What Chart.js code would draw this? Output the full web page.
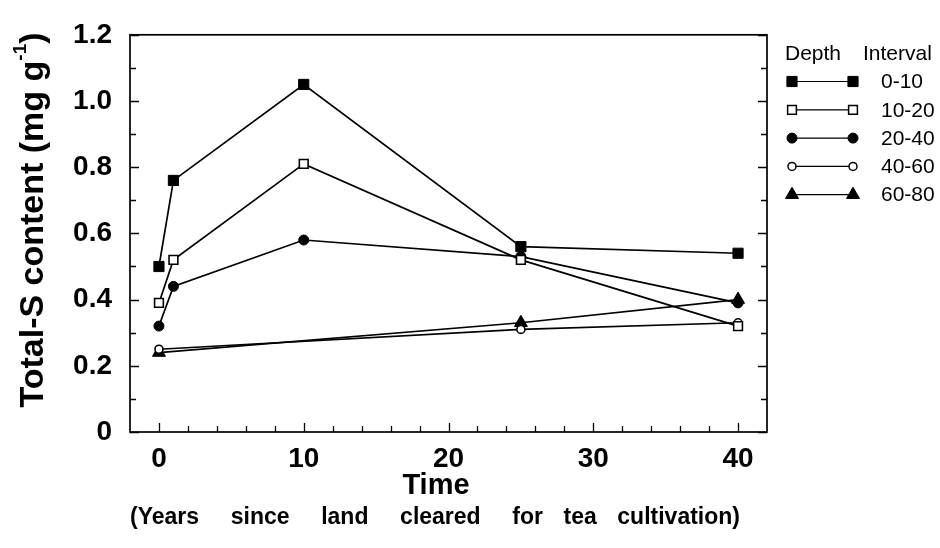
<!DOCTYPE html>
<html>
<head>
<meta charset="utf-8">
<script src="https://cdn.jsdelivr.net/npm/chart.js@4/dist/chart.umd.min.js"></script>
<style>
  html, body { margin: 0; padding: 0; background: #fff; }
  #wrap { width: 940px; height: 548px; }
</style>
</head>
<body>
<div id="wrap"><canvas id="c" width="940" height="548"></canvas></div>
<script>
// Sampling years (time since land was cleared for tea)
const yearsShallow = [0, 1, 10, 25, 40];
const yearsDeep = [0, 25, 40];

// Total-S content (mg g-1) per soil depth interval (cm)
const depthLabels = ['0-10', '10-20', '20-40', '40-60', '60-80'];
const sulfur0_10 = [0.50, 0.76, 1.05, 0.56, 0.54];
const sulfur10_20 = [0.39, 0.52, 0.81, 0.52, 0.32];
const sulfur20_40 = [0.32, 0.44, 0.58, 0.53, 0.39];
const sulfur40_60 = [0.25, 0.31, 0.33];
const sulfur60_80 = [0.24, 0.33, 0.40];

// Axis ticks
const xTicks = [0, 10, 20, 30, 40];
const xMinorStep = 2;
const yTicks = [0, 0.2, 0.4, 0.6, 0.8, 1.0, 1.2];
const yTickLabels = ['0', '0.2', '0.4', '0.6', '0.8', '1.0', '1.2'];
const yMinorStep = 0.1;

// x-axis caption words and the relative width of the gap after each
const captionWords = ['(Years', 'since', 'land', 'cleared', 'for', 'tea', 'cultivation)'];
const captionGaps = [1, 1, 1, 1, 0.65, 0.65];

const FONT = "'Liberation Sans', Arial, Helvetica, sans-serif";

// marker look for each depth
const markers = [
  { style: 'rect', filled: true, r: 7.2 },
  { style: 'rect', filled: false, r: 6.2 },
  { style: 'circle', filled: true, r: 5 },
  { style: 'circle', filled: false, r: 4 },
  { style: 'triangle', filled: true, r: 7.5 }
];

function pairs(xs, ys) { return xs.map((x, i) => ({ x: x, y: ys[i] })); }

const seriesValues = [sulfur0_10, sulfur10_20, sulfur20_40, sulfur40_60, sulfur60_80];
const seriesYears = [yearsShallow, yearsShallow, yearsShallow, yearsDeep, yearsDeep];

const datasets = seriesValues.map((vals, i) => ({
  label: depthLabels[i],
  data: pairs(seriesYears[i], vals),
  showLine: true,
  borderColor: '#000',
  borderWidth: 1.7,
  tension: 0,
  fill: false,
  pointStyle: markers[i].style,
  pointRadius: markers[i].r,
  pointHoverRadius: markers[i].r,
  pointBackgroundColor: markers[i].filled ? '#000' : '#fff',
  pointBorderColor: '#000',
  pointBorderWidth: markers[i].filled ? 1 : 1.6
}));

function drawMarker(ctx, m, x, y) {
  ctx.save();
  ctx.beginPath();
  if (m.style === 'rect') {
    const s = m.r * Math.SQRT1_2;
    ctx.rect(x - s, y - s, 2 * s, 2 * s);
  } else if (m.style === 'circle') {
    ctx.arc(x, y, m.r, 0, Math.PI * 2);
  } else {
    const r = m.r;
    ctx.moveTo(x, y - r);
    ctx.lineTo(x + r * Math.cos(Math.PI / 6), y + r * 0.5);
    ctx.lineTo(x - r * Math.cos(Math.PI / 6), y + r * 0.5);
    ctx.closePath();
  }
  ctx.fillStyle = m.filled ? '#000' : '#fff';
  ctx.fill();
  ctx.lineWidth = m.filled ? 1 : 1.5;
  ctx.strokeStyle = '#000';
  ctx.stroke();
  ctx.restore();
}

// Frame with inward major/minor ticks
const framePlugin = {
  id: 'frame',
  beforeDatasetsDraw(chart) {
    const { ctx, chartArea: a, scales } = chart;
    const xs = scales.x, ys = scales.y;
    ctx.save();
    ctx.strokeStyle = '#000';
    ctx.lineWidth = 1.7;
    ctx.strokeRect(a.left, a.top, a.right - a.left, a.bottom - a.top);
    ctx.lineWidth = 1.3;
    ctx.beginPath();
    // y ticks, both sides
    for (let v = 0; v <= 1.2001; v += yMinorStep) {
      const py = Math.round(ys.getPixelForValue(v)) + 0.5;
      const major = yTicks.some(t => Math.abs(t - v) < 1e-6);
      const len = major ? 9 : 6;
      ctx.moveTo(a.left, py); ctx.lineTo(a.left + len, py);
      ctx.moveTo(a.right, py); ctx.lineTo(a.right - len, py);
    }
    // x ticks, bottom only
    for (let v = 0; v <= 40.001; v += xMinorStep) {
      const px = Math.round(xs.getPixelForValue(v)) + 0.5;
      const major = xTicks.some(t => Math.abs(t - v) < 1e-6);
      const len = major ? 9 : 6;
      ctx.moveTo(px, a.bottom); ctx.lineTo(px, a.bottom - len);
    }
    ctx.stroke();
    ctx.restore();
  }
};

// Axis titles and depth legend
const textPlugin = {
  id: 'texts',
  afterDraw(chart) {
    const ctx = chart.ctx;
    ctx.save();
    ctx.fillStyle = '#000';

    // y axis title with superscript
    ctx.save();
    ctx.translate(31, 220);
    ctx.rotate(-Math.PI / 2);
    const main = 'Total-S content (mg g';
    const sup = '-1';
    const tail = ')';
    ctx.font = 'bold 34px ' + FONT;
    const wMain = ctx.measureText(main).width;
    const wTail = ctx.measureText(tail).width;
    ctx.font = 'bold 19px ' + FONT;
    const wSup = ctx.measureText(sup).width;
    const total = wMain + wSup + wTail;
    const x0 = -total / 2;
    ctx.textBaseline = 'alphabetic';
    ctx.textAlign = 'left';
    ctx.font = 'bold 34px ' + FONT;
    ctx.fillText(main, x0, 12);
    ctx.font = 'bold 19px ' + FONT;
    ctx.fillText(sup, x0 + wMain, -5);
    ctx.font = 'bold 34px ' + FONT;
    ctx.fillText(tail, x0 + wMain + wSup, 12);
    ctx.restore();

    // x axis titles
    ctx.textAlign = 'center';
    ctx.textBaseline = 'middle';
    ctx.font = 'bold 29px ' + FONT;
    ctx.fillText('Time', 436, 486);

    // caption spread between the two outer x tick positions
    ctx.textAlign = 'left';
    ctx.font = 'bold 23px ' + FONT;
    const left = 130, right = 740;
    const widths = captionWords.map(w => ctx.measureText(w).width);
    const textW = widths.reduce((s, w) => s + w, 0);
    const gapUnit = (right - left - textW) / captionGaps.reduce((s, g) => s + g, 0);
    let cx = left;
    captionWords.forEach((w, i) => {
      ctx.fillText(w, cx, 518);
      cx += widths[i] + (i < captionGaps.length ? captionGaps[i] * gapUnit : 0);
    });

    // legend
    ctx.font = '21px ' + FONT;
    ctx.fillText('Depth', 785, 54);
    ctx.fillText('Interval', 863, 54);
    chart.data.datasets.forEach((ds, i) => {
      const y = 81.5 + i * 28.3;
      ctx.save();
      ctx.strokeStyle = '#000';
      ctx.lineWidth = 1.2;
      ctx.beginPath();
      ctx.moveTo(792, y); ctx.lineTo(853, y);
      ctx.stroke();
      ctx.restore();
      drawMarker(ctx, markers[i], 792, y);
      drawMarker(ctx, markers[i], 853, y);
      ctx.fillStyle = '#000';
      ctx.fillText(ds.label, 881, y + 1);
    });
    ctx.restore();
  }
};

new Chart(document.getElementById('c'), {
  type: 'scatter',
  data: { datasets: datasets },
  options: {
    responsive: false,
    animation: false,
    devicePixelRatio: 1,
    layout: { padding: { top: 23, left: 0, right: 173, bottom: 0 } },
    plugins: { legend: { display: false }, tooltip: { enabled: false } },
    scales: {
      x: {
        type: 'linear',
        min: -2,
        max: 42,
        afterBuildTicks: s => { s.ticks = xTicks.map(v => ({ value: v })); },
        afterFit: s => { s.height = 116; },
        grid: { display: false, drawTicks: false },
        border: { display: false },
        ticks: {
          padding: 10,
          color: '#000',
          font: { family: FONT, weight: 'bold', size: 28 }
        }
      },
      y: {
        type: 'linear',
        min: 0,
        max: 1.2,
        afterBuildTicks: s => { s.ticks = yTicks.map(v => ({ value: v })); },
        afterFit: s => { s.width = 130; },
        grid: { display: false, drawTicks: false },
        border: { display: false },
        ticks: {
          padding: 18,
          color: '#000',
          font: { family: FONT, weight: 'bold', size: 28 },
          callback: (v, i) => yTickLabels[i]
        }
      }
    }
  },
  plugins: [framePlugin, textPlugin]
});
</script>
</body>
</html>
